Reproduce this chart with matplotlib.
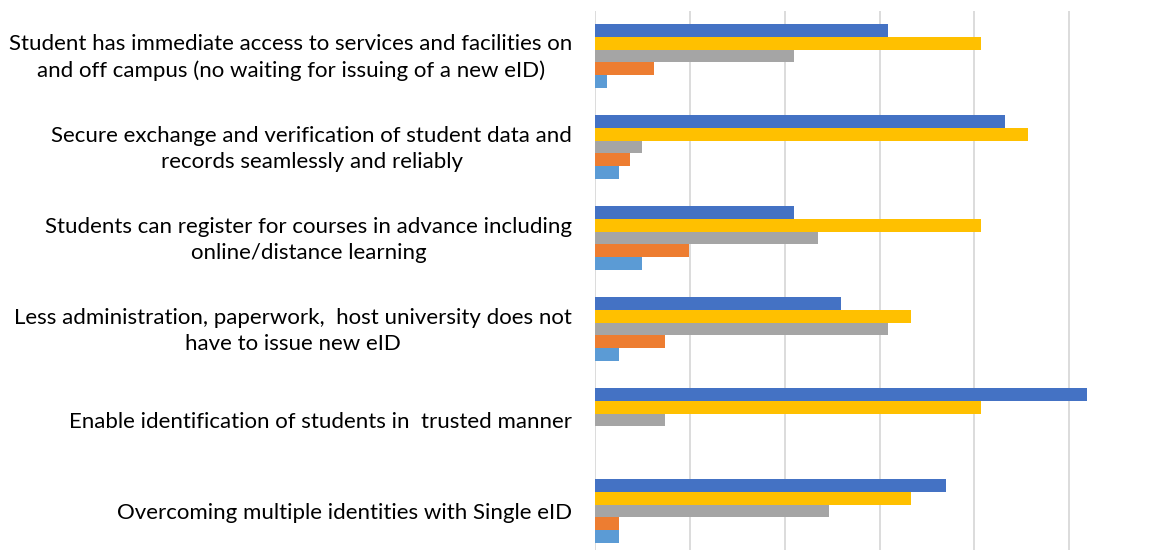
import matplotlib
matplotlib.use("Agg")
import matplotlib.pyplot as plt
import numpy as np

categories = [
    "Student has immediate access to services and facilities on\nand off campus (no waiting for issuing of a new eID)",
    "Secure exchange and verification of student data and\nrecords seamlessly and reliably",
    "Students can register for courses in advance including\nonline/distance learning",
    "Less administration, paperwork,  host university does not\nhave to issue new eID",
    "Enable identification of students in  trusted manner",
    "Overcoming multiple identities with Single eID",
]

# series values (counts), listed top-to-bottom within each group
series_dark_blue = [25, 35, 17, 21, 42, 30]
series_yellow = [33, 37, 33, 27, 33, 27]
series_gray = [17, 4, 19, 25, 6, 20]
series_orange = [5, 3, 8, 6, 0, 2]
series_light_blue = [1, 2, 4, 2, 0, 2]

series = [series_dark_blue, series_yellow, series_gray, series_orange, series_light_blue]
colors = ["#4472C4", "#FFC000", "#A5A5A5", "#ED7D31", "#5B9BD5"]

W, H = 1154, 550
fig = plt.figure(figsize=(W / 100, H / 100), dpi=100)

px_per_unit = 11.7
x0 = 595.2
top_px, bot_px = 10.5, 556.5
ax = fig.add_axes([x0 / W, 1 - bot_px / H, 1 - x0 / W, (bot_px - top_px) / H])
ax.set_xlim(0, (W - x0) / px_per_unit)
ax.set_ylim(len(categories) - 0.5, -0.5)

bar_h = 12.67 / 91.0
n = len(series)
y = np.arange(len(categories))
for i, (vals, c) in enumerate(zip(series, colors)):
    offs = (i - (n - 1) / 2) * bar_h
    ax.barh(y + offs, vals, height=bar_h, color=c, edgecolor="none", zorder=3)

grid_step = 94.8 / px_per_unit
ax.set_xticks(np.arange(0, 6) * grid_step)
ax.xaxis.grid(True, color="#D9D9D9", linewidth=1.3, zorder=0)
ax.tick_params(axis="x", length=0, labelbottom=False)

ax.set_yticks(y)
ax.set_yticklabels([])
ax.tick_params(axis="y", length=0)
for yi, lab in zip(y, categories):
    dy = 2.5 if "\n" in lab else 0.0
    ax.annotate(lab, xy=(0, yi), xycoords=("axes fraction", "data"),
                xytext=(-16.5, dy), textcoords="offset points",
                ha="right", va="center_baseline", multialignment="center",
                fontsize=16.0, family="Lato", color="#000000", linespacing=1.4,
                annotation_clip=False)

for s in ax.spines.values():
    s.set_visible(False)

fig.savefig("out.png", dpi=100)
